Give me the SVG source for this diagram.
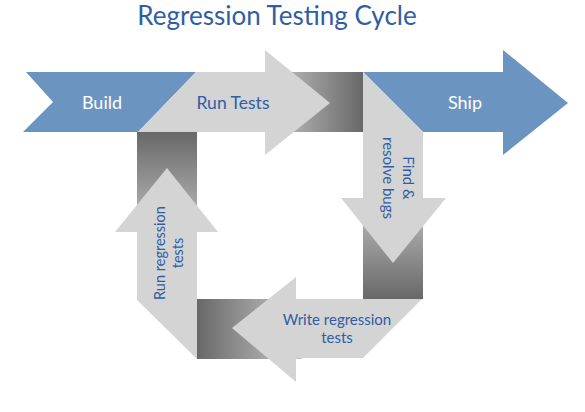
<svg xmlns="http://www.w3.org/2000/svg" width="585" height="412" viewBox="0 0 585 412">
<style>
.blue{fill:#6b94c0}
.gray{fill:#d4d4d4}
.t{font-family:Lato,"Open Sans","Liberation Sans",sans-serif;text-anchor:middle}
.w{fill:#ffffff;font-size:18px}
.d{fill:#2f5ea5;font-size:15px}
</style>
<defs>
<linearGradient id="gR" x1="0" y1="0" x2="1" y2="0"><stop offset="0" stop-color="#c8c8c8"/><stop offset="1" stop-color="#686868"/></linearGradient>
<linearGradient id="gL" x1="1" y1="0" x2="0" y2="0"><stop offset="0" stop-color="#c8c8c8"/><stop offset="1" stop-color="#686868"/></linearGradient>
<linearGradient id="gD" x1="0" y1="0" x2="0" y2="1"><stop offset="0" stop-color="#c8c8c8"/><stop offset="1" stop-color="#686868"/></linearGradient>
<linearGradient id="gU" x1="0" y1="1" x2="0" y2="0"><stop offset="0" stop-color="#c8c8c8"/><stop offset="1" stop-color="#686868"/></linearGradient>
</defs>
<text class="t" x="277" y="25" style="font-size:26px" fill="#2f5ea5">Regression Testing Cycle</text>
<g id="connectors">
<rect x="265" y="72" width="98" height="60" fill="url(#gR)"/>
<rect x="363" y="190" width="60" height="109" fill="url(#gD)"/>
<rect x="197" y="299" width="105" height="60" fill="url(#gL)"/>
<rect x="137" y="132" width="60" height="110" fill="url(#gU)"/>
</g>
<g id="build">
<polygon class="blue" points="26,72 196,72 138,132 23,132 53,102"/>
<text class="t w" x="102" y="109">Build</text>
</g>
<g id="run-tests">
<polygon class="gray" points="196,72 265,72 265,50 330,103 265,155 265,132 138,132"/>
<text class="t d" x="233" y="109" style="font-size:17.5px">Run Tests</text>
</g>
<g id="ship">
<polygon class="blue" points="363,72 503,72 503,50 568,103 503,155 503,132 423,132"/>
<text class="t w" x="465" y="109">Ship</text>
</g>
<g id="find-bugs">
<polygon class="gray" points="363,72 423,132 423,198 446,198 393,263 341,198 363,198"/>
<text class="t d" transform="translate(396.5,178) rotate(90)"><tspan x="0" y="-6">Find &amp;</tspan><tspan x="0" y="14">resolve bugs</tspan></text>
</g>
<g id="write-tests">
<polygon class="gray" points="422,299 296,299 296,277 232,328 296,382 296,358 363,358"/>
<text class="t d" x="337" y="325">Write regression</text>
<text class="t d" x="337" y="343">tests</text>
</g>
<g id="run-regression">
<polygon class="gray" points="197,359 137,300 137,232 115,232 167,168 218,232 197,232"/>
<text class="t d" transform="translate(167,253) rotate(-90)" style="font-size:14.5px"><tspan x="0" y="-2">Run regression</tspan><tspan x="0" y="16">tests</tspan></text>
</g>
</svg>
